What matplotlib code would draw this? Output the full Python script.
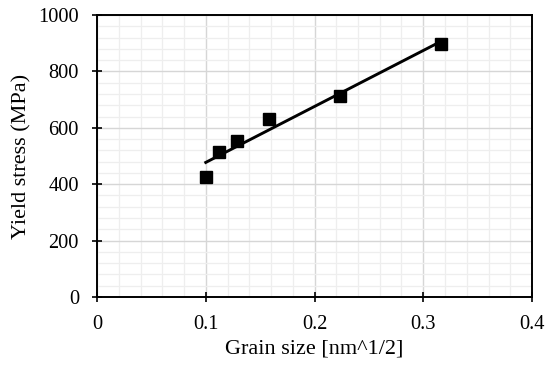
import matplotlib
matplotlib.use('Agg')
import matplotlib.pyplot as plt
import numpy as np
from matplotlib.ticker import MultipleLocator

plt.rcParams['font.family'] = ['Liberation Serif', 'DejaVu Serif']

# data
grain_size = [0.100, 0.1118, 0.1291, 0.1581, 0.2236, 0.3162]
yield_stress = [424, 514, 554, 631, 713, 898]

# linear (Hall-Petch) fit
slope, intercept = np.polyfit(grain_size, yield_stress, 1)
fit_x = np.array([min(grain_size), max(grain_size)])
fit_y = slope * fit_x + intercept

fig = plt.figure(figsize=(5.5, 3.67), dpi=100)
ax = fig.add_axes([97/550, 1 - 297/367, (532-97)/550, (297-15)/367])

ax.plot(fit_x, fit_y, color='black', lw=2.1, zorder=3)
ax.plot(grain_size, yield_stress, 's', color='black', ms=9, zorder=4)

ax.set_xlim(0, 0.4)
ax.set_ylim(0, 1000)
ax.xaxis.set_major_locator(MultipleLocator(0.1))
ax.xaxis.set_minor_locator(MultipleLocator(0.02))
ax.yaxis.set_major_locator(MultipleLocator(200))
ax.yaxis.set_minor_locator(MultipleLocator(40))
ax.set_xticks([0, 0.1, 0.2, 0.3, 0.4])
ax.set_xticklabels(['0', '0.1', '0.2', '0.3', '0.4'])

ax.grid(which='major', color='#d6d6d6', lw=1.0)
ax.grid(which='minor', color='#eeeeee', lw=0.9)
ax.set_axisbelow(True)

for s in ax.spines.values():
    s.set_linewidth(1.4)
    s.set_color('black')

ax.tick_params(which='major', direction='inout', length=7, width=1.2, labelsize=14.7, pad=9.5)
ax.tick_params(which='minor', length=0)

ax.set_xlabel('Grain size [nm^1/2]', fontsize=16, labelpad=4)
ax.set_ylabel('Yield stress (MPa)', fontsize=16, labelpad=5)

fig.savefig('out.png', dpi=100)
